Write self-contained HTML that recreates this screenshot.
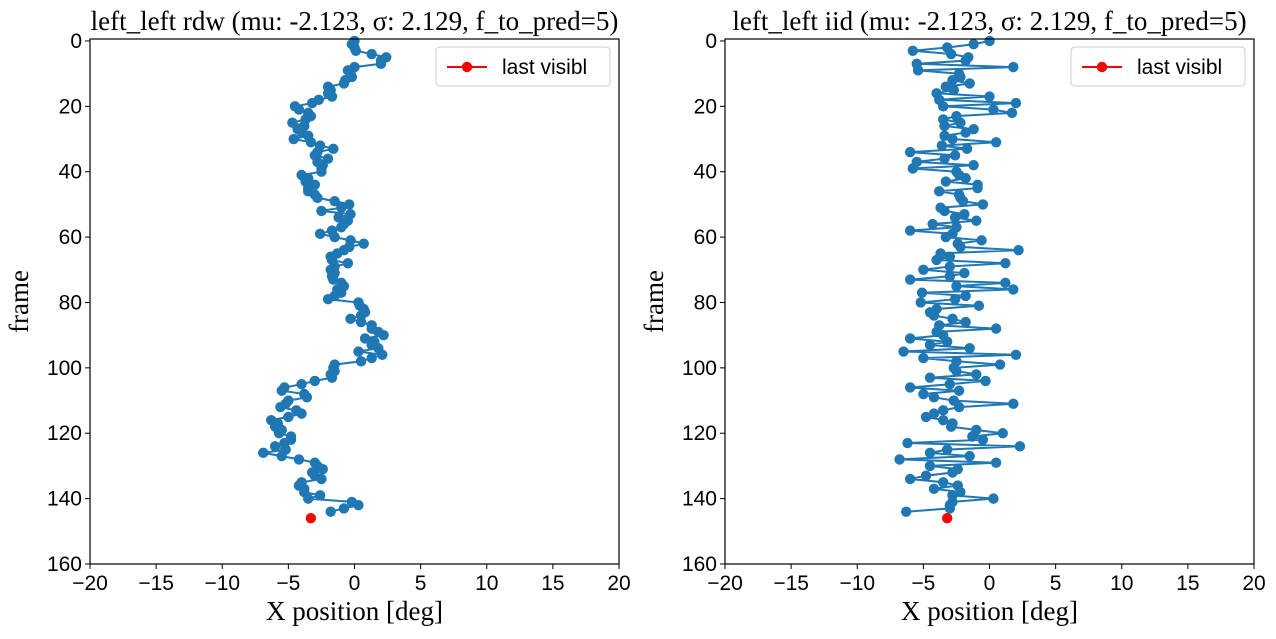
<!DOCTYPE html>
<html><head><meta charset="utf-8"><style>
body{margin:0;background:#fff;width:1276px;height:634px;overflow:hidden}
svg text{fill:#000}
.t{font-family:"Liberation Serif",serif;font-size:27px}
.tk{font-family:"Liberation Sans",sans-serif;font-size:21px}
</style></head><body>
<svg id="chart" width="1276" height="634" xmlns="http://www.w3.org/2000/svg"></svg>
<script>
const xTicks=[-20,-15,-10,-5,0,5,10,15,20];
const yTicks=[0,20,40,60,80,100,120,140,160];
const rdwX=[0,-0.2,0,0.1,1.3,2.4,2,2,0,-0.5,-0.3,-0.2,-0.7,-0.8,-2,-1.8,-2,-1.7,-2.7,-3.2,-4.5,-4.2,-3.5,-3.3,-3.7,-4.7,-3.8,-4.3,-4,-3.5,-4.6,-3.3,-2.6,-1.6,-2.8,-3,-2,-2.8,-2.4,-2.5,-2.5,-4,-3.5,-3.7,-3,-3.5,-3.5,-3,-2.8,-1.5,-0.4,-1,-2.5,-0.3,-1.2,-0.5,-0.8,-1,-1.7,-2.6,-1.5,-0.3,0.7,-0.4,-0.8,-1.3,-1.8,-1.7,-0.5,-1.5,-1.8,-1.5,-1.7,-1.6,-1,-0.8,-1.3,-1,-1.5,-2,0.3,0.4,0.7,0.8,0.5,-0.3,0.5,1.3,1.3,1.8,2.2,0.8,1.5,1.3,1.8,0.3,2.1,1.3,0.5,-1.5,-1.6,-1.5,-1.8,-1.7,-3,-4,-5.3,-5.5,-3.8,-3.6,-5,-5.2,-5.6,-4.4,-4,-5,-6.3,-5.8,-6,-5.5,-5.7,-4.8,-4.8,-5.3,-6,-5.2,-6.9,-5.5,-4.2,-3,-2.8,-2.4,-3.2,-3,-2.5,-4,-4.2,-3.8,-3.8,-2.6,-3.5,-0.2,0.3,-0.8,-1.8];
const iidX=[0,-1.2,-3.2,-5.8,-2.9,-1.6,-1.8,-5.5,1.8,-5.4,-2.3,-2.2,-2.8,-1.5,-3.3,-2.7,-4,0,-3.8,2,-3.5,0.3,1.7,-2.5,-3.5,-2.2,-3.4,-1.2,-1.8,-3.4,-2.8,0.5,-3.6,-1.7,-6,-2.6,-3.4,-5.5,-1.2,-5.8,-2.5,-2.3,-1.8,-3.3,-0.9,-0.9,-3.8,-2.3,-2.2,-2,-0.5,-3.7,-3.4,-1.9,-2.6,-1,-4.3,-2.5,-6,-2.8,-3.3,-0.6,-2.4,-2.2,2.2,-3.7,-3,-4,1.2,-3,-5,-1.9,-3,-6,1.2,-2.5,1.8,-5.1,-1.8,-2.6,-5.2,-0.8,-4,-4.5,-4.2,-2.8,-1.8,-3.8,0.5,-4,-3.5,-6,-3.2,-4.5,-1.5,-6.5,2,-5,-2.5,0.8,-2.7,-2.5,-1,-4.5,-0.3,-3,-6,-2.3,-5,-4.2,-2.7,1.8,-2.3,-3.5,-4.2,-4.8,-3.5,-2.8,-2.9,-1,1,-1.3,-0.5,-6.2,2.3,-3.2,-4.5,-1.5,-6.8,0.5,-4.5,-2.4,-2.8,-4.8,-6,-3.5,-2.4,-4.2,-2.2,-2.8,0.3,-2.8,-3,-3,-6.3];
const rdwY=rdwX.map((_,i)=>i);
const iidY=iidX.map((_,i)=>i);
const lastX=[-3.3,-3.2];
const lastY=[146,146];
const titles=["left_left rdw (mu: -2.123, σ: 2.129, f_to_pred=5)","left_left iid (mu: -2.123, σ: 2.129, f_to_pred=5)"];
const panels=[{x0:90,x1:619,xs:rdwX,ys:rdwY,lx:lastX[0],ly:lastY[0],name:'rdw'},{x0:725,x1:1254,xs:iidX,ys:iidY,lx:lastX[1],ly:lastY[1],name:'iid'}];
const Y0=39,Y1=564,ymin=-0.6,ymax=160;
const svg=document.getElementById('chart');
const NS='http://www.w3.org/2000/svg';
function mk(tag,attrs,parent){const e=document.createElementNS(NS,tag);for(const k in attrs)e.setAttribute(k,attrs[k]);(parent||svg).appendChild(e);return e;}
panels.forEach((p,pi)=>{
  const sx=v=>p.x0+(v+20)/40*(p.x1-p.x0);
  const sy=v=>Y0+(v-ymin)/(ymax-ymin)*(Y1-Y0);
  const g=mk('g',{});
  
  
  const pts=p.xs.map((v,i)=>sx(v).toFixed(1)+','+sy(p.ys[i]).toFixed(1)).join(' ');
  const ln=mk('polyline',{points:pts,fill:'none',stroke:'#1f77b4','stroke-width':2},g);
  
  
  p.xs.forEach((v,i)=>{const c=mk('circle',{cx:sx(v),cy:sy(p.ys[i]),r:5.2,fill:'#1f77b4'},g);
    
    });
  const r=mk('circle',{cx:sx(p.lx),cy:sy(p.ly),r:5.2,fill:'#ff0000'},g);
  
  
  const fr=mk('rect',{x:p.x0,y:Y0,width:p.x1-p.x0,height:Y1-Y0,fill:'none',stroke:'#000','stroke-width':1.2},g);
  
  
  xTicks.forEach(t=>{const x=sx(t);mk('line',{x1:x,x2:x,y1:Y1,y2:Y1+5,stroke:'#000'},g);
    const tx=mk('text',{x:x,y:Y1+26,'text-anchor':'middle',class:'tk'},g);tx.textContent=(t<0?'\u2212'+(-t):t);
    
    });
  yTicks.forEach(t=>{const y=sy(t);mk('line',{x1:p.x0-5,x2:p.x0,y1:y,y2:y,stroke:'#000'},g);
    const tx=mk('text',{x:p.x0-8,y:y+7,'text-anchor':'end',class:'tk'},g);tx.textContent=t;
    
    });
  const tt=mk('text',{x:(p.x0+p.x1)/2,y:30,'text-anchor':'middle',class:'t'},g);tt.textContent=titles[pi];
  
  
  const xl=mk('text',{x:(p.x0+p.x1)/2,y:620,'text-anchor':'middle',class:'t'},g);xl.textContent='X position [deg]';
  
  
  const yl=mk('text',{x:0,y:0,'text-anchor':'middle',class:'t',transform:`translate(${p.x0-62},${(Y0+Y1)/2}) rotate(-90)`},g);yl.textContent='frame';
  
  
  const lg=mk('g',{},g);
  
  
  const lx=p.x1-183;
  mk('rect',{x:lx,y:47,width:174,height:39,rx:4,fill:'#fff',stroke:'#ccc'},lg);
  mk('line',{x1:lx+11,x2:lx+51,y1:67,y2:67,stroke:'#ff0000','stroke-width':2},lg);
  mk('circle',{cx:lx+31,cy:67,r:5.2,fill:'#ff0000'},lg);
  const lt=mk('text',{x:lx+66,y:74,class:'tk'},lg);lt.textContent='last visibl';
  
  
});
</script>
</body></html>
